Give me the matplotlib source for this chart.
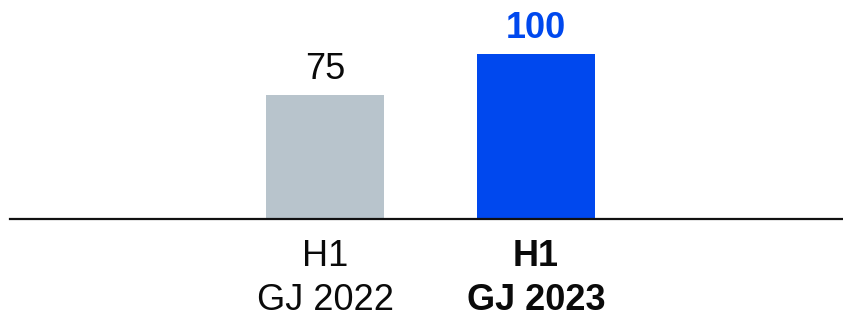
import matplotlib
matplotlib.use("Agg")
import matplotlib.pyplot as plt

categories = ["H1\nGJ 2022", "H1\nGJ 2023"]
values = [75, 100]
colors = ["#B8C4CC", "#0048EE"]
label_colors = ["#0a0a0a", "#0048EE"]
label_weights = ["normal", "bold"]

plt.rcParams['font.family'] = ['Liberation Sans', 'DejaVu Sans']

W, H = 843, 317
fig = plt.figure(figsize=(W/100, H/100), dpi=100)
base_y = 218.5
top_y = 54
ax = fig.add_axes([10/W, (H-base_y)/H, 833/W, (base_y-top_y)/H])

x = list(range(len(values)))
ax.bar(x, values, width=0.559, color=colors)
ax.set_xlim(-1.493, 2.455)
ax.set_ylim(0, 100)

for xi, v, c, w in zip(x, values, label_colors, label_weights):
    ax.annotate(str(v), (xi, v), xytext=(0, 5.5), textcoords="offset points",
                ha="center", va="bottom", fontsize=26, color=c, fontweight=w,
                annotation_clip=False)

ax.set_xticks(x)
ax.set_xticklabels(categories, fontsize=26, color="#0a0a0a", linespacing=1.32)
for lbl, w in zip(ax.get_xticklabels(), label_weights):
    lbl.set_fontweight(w)
ax.tick_params(axis="x", length=0, pad=15)
ax.set_yticks([])
for s in ["top", "right", "left"]:
    ax.spines[s].set_visible(False)
ax.spines["bottom"].set_linewidth(1.6)
ax.spines["bottom"].set_color("#111111")
ax.patch.set_alpha(0)

fig.savefig("out.png", dpi=100)
